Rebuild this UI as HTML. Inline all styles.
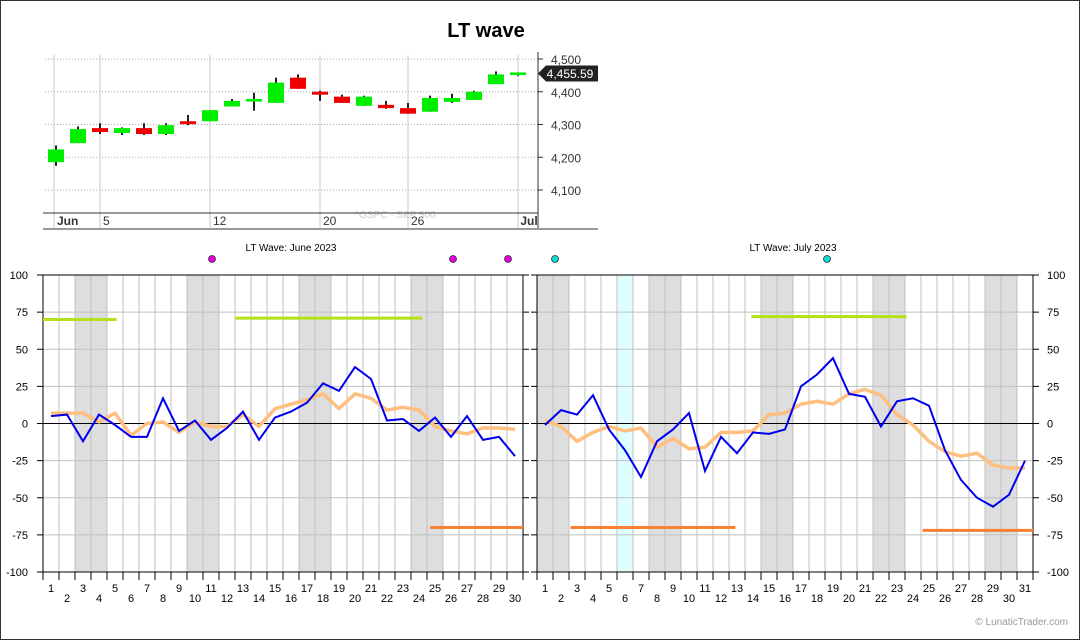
<!DOCTYPE html>
<html><head><meta charset="utf-8"><style>
body{margin:0;background:#fff}
svg{display:block;font-family:"Liberation Sans",Arial,sans-serif}
</style></head><body>
<svg id="c" width="1080" height="640" viewBox="0 0 1080 640" xmlns="http://www.w3.org/2000/svg">
<rect x="0.5" y="0.5" width="1079" height="639" fill="#fff" stroke="#333"/>
<text x="486" y="37" text-anchor="middle" font-size="20" font-weight="bold" fill="#000">LT wave</text>
<g id="topchart"></g>
<g id="panels"></g>
<text x="1068" y="625" text-anchor="end" font-size="10" fill="#999">© LunaticTrader.com</text>
</svg>
<script>
const NS="http://www.w3.org/2000/svg";
// ---- candlestick data ----
const candleOpen=[4185,4243,4289,4274,4289,4271,4310,4310,4355,4370,4366,4443,4400,4385,4357,4360,4350,4339,4369,4375,4423,4451];
const candleClose=[4224,4286,4277,4289,4271,4298,4301,4344,4372,4378,4428,4409,4391,4366,4385,4350,4333,4381,4381,4400,4453,4459];
const candleHigh=[4236,4294,4304,4291,4304,4304,4329,4344,4378,4397,4443,4453,4403,4391,4388,4372,4366,4388,4394,4403,4462,4459];
const candleLow=[4174,4243,4271,4268,4268,4268,4298,4310,4355,4342,4366,4409,4372,4366,4357,4348,4333,4339,4366,4375,4423,4449];
const priceTicks=[4500,4400,4300,4200,4100];
const dateLabels=["Jun","5","12","20","26","Jul"];
const dateIdx=[0,2,7,12,16,21];
const lastPrice="4,455.59";
// ---- LT wave data ----
const juneBlue=[5,6,-12,6,-1,-9,-9,17,-5,2,-11,-3,8,-11,4,8,14,27,22,38,30,2,3,-5,4,-9,5,-11,-9,-22];
const juneOrange=[7,7,7,1,7,-8,0,1,-6,1,-2,-2,6,-2,10,13,16,20,10,20,17,9,11,9,-2,-5,-7,-3,-3,-4];
const julyBlue=[-1,9,6,19,-4,-18,-36,-12,-4,7,-32,-9,-20,-6,-7,-4,25,33,44,20,18,-2,15,17,12,-18,-38,-50,-56,-48,-25];
const julyOrange=[2,-2,-12,-6,-2,-5,-3,-16,-10,-17,-16,-6,-6,-5,6,7,13,15,13,20,23,19,6,-1,-12,-19,-22,-20,-28,-30,-30];
const juneShade=[3,4,10,11,17,18,24,25];
const julyShade=[1,2,8,9,15,16,22,23,29,30];
const julyCyanShade=[6];
const juneGreen=[[0.5,5.1,70],[12.5,24.2,71]];
const juneOrangeBars=[[24.7,30.5,-70]];
const julyGreen=[[13.9,23.6,72]];
const julyOrangeBars=[[2.6,12.9,-70],[24.6,31.5,-72]];
const juneDotsX=[212,453,508];
const julyDotsX=[555,827];
const yTicks=[100,75,50,25,0,-25,-50,-75,-100];

function el(tag,attrs,parent,text){const e=document.createElementNS(NS,tag);for(const k in attrs)e.setAttribute(k,attrs[k]);if(text!==undefined)e.textContent=text;parent.appendChild(e);return e;}

// ---- top chart ----
const topG=document.getElementById('topchart');
const py=v=>59+(4500-v)*0.3275;
const cx=i=>56+i*22;
priceTicks.forEach(t=>{
  const l=el('line',{x1:45,x2:538,y1:py(t),y2:py(t),stroke:'#aaa','stroke-dasharray':'1,2'},topG);
  
  
  const tx=el('text',{x:566,y:py(t)+5,'text-anchor':'middle','font-size':12,fill:'#333'},topG,t.toLocaleString('en-US'));
  
  
  el('line',{x1:538,x2:543,y1:py(t),y2:py(t),stroke:'#333'},topG);
});
dateIdx.forEach((d,k)=>{
  const x=cx(d)-2*(k==0);
  const l=el('line',{x1:x,x2:x,y1:55,y2:228,stroke:'#c8c8c8'},topG);
  
  
  const tx=el('text',{x:x+3,y:225,'font-size':12,'font-weight':k==0||k==5?'bold':'normal',fill:'#333'},topG,dateLabels[k]);
  if(k==5){tx.setAttribute('x',x+11);tx.setAttribute('text-anchor','middle');}
  
  
});
const wm=el('text',{x:395,y:218,'text-anchor':'middle','font-size':10,fill:'#ccc'},topG,'^GSPC - S&P 500');


el('line',{x1:43,x2:538,y1:213,y2:213,stroke:'#333'},topG);
el('line',{x1:538,x2:538,y1:52,y2:228,stroke:'#333'},topG);
el('line',{x1:43,x2:598,y1:229,y2:229,stroke:'#333'},topG);
candleOpen.forEach((o,i)=>{
  const c=candleClose[i],up=c>=o,x=cx(i);
  const g=el('g',{},topG);
  
  
  el('line',{x1:x,x2:x,y1:py(candleHigh[i]),y2:py(candleLow[i]),stroke:'#222','stroke-width':2},g);
  const t=py(Math.max(o,c)),b=py(Math.min(o,c));
  el('rect',{x:x-8,y:t,width:16,height:Math.max(2,b-t),fill:up?'#00ee00':'#ee0000'},g);
});
const lp=py(4455.59);
const pl=el('path',{d:`M538 ${lp} L546 ${lp-8} H598 V${lp+8} H546 Z`,fill:'#222'},topG);


const plt=el('text',{x:570,y:lp+4.5,'text-anchor':'middle','font-size':12,fill:'#fff'},topG,lastPrice);



// ---- LT wave panels ----
const panelsG=document.getElementById('panels');
const vy=v=>423.5-v*1.485;
function panel(name,x0,ndays,blue,orange,shade,cyan,greens,oranges,dots,dotColor,title,axisRight){
  const g=el('g',{},panelsG);
  
  
  const x1=x0+ndays*16;
  const dx=d=>x0+8+(d-1)*16;
  shade.forEach(d=>{const r=el('rect',{x:x0+(d-1)*16,y:275,width:16,height:297,fill:'#dedede'},g);
    
    });
  cyan.forEach(d=>{const r=el('rect',{x:x0+(d-1)*16,y:275,width:16,height:297,fill:'#dfffff'},g);
    
    });
  for(let d=0;d<=ndays;d++){const x=x0+d*16;el('line',{x1:x,x2:x,y1:275,y2:572,stroke:'#c0c0c0'},g);el('line',{x1:x,x2:x,y1:572,y2:580,stroke:'#000'},g);}
  yTicks.forEach(t=>{
    el('line',{x1:x0,x2:x1,y1:vy(t),y2:vy(t),stroke:t==0?'#000':'#c0c0c0'},g);
    el('line',{x1:x0-6,x2:x0,y1:vy(t),y2:vy(t),stroke:'#000'},g);
    el('line',{x1:x1,x2:x1+6,y1:vy(t),y2:vy(t),stroke:'#000'},g);
    const tx=axisRight?el('text',{x:1047,y:vy(t)+4,'font-size':11,fill:'#000'},g,t):el('text',{x:28,y:vy(t)+4,'text-anchor':'end','font-size':11,fill:'#000'},g,t);
    
    
  });
  el('rect',{x:x0,y:275,width:x1-x0,height:297,fill:'none',stroke:'#000'},g);
  for(let d=1;d<=ndays;d++){const tx=el('text',{x:dx(d),y:d%2?592:602,'text-anchor':'middle','font-size':11,fill:'#000'},g,d);
    
    }
  greens.forEach(s=>{const l=el('line',{x1:dx(s[0]),x2:Math.min(x1,dx(s[1])),y1:vy(s[2]),y2:vy(s[2]),stroke:'#b5e11a','stroke-width':3},g);
    
    });
  oranges.forEach(s=>{const l=el('line',{x1:dx(s[0]),x2:Math.min(x1,dx(s[1])),y1:vy(s[2]),y2:vy(s[2]),stroke:'#fb8030','stroke-width':3},g);
    
    });
  const op=el('polyline',{points:orange.map((v,i)=>dx(i+1)+','+vy(v)).join(' '),fill:'none',stroke:'#ffbf80','stroke-width':3.5,'stroke-linejoin':'round'},g);
  
  
  const bp=el('polyline',{points:blue.map((v,i)=>dx(i+1)+','+vy(v)).join(' '),fill:'none',stroke:'#0000ee','stroke-width':2},g);
  
  
  dots.forEach(x=>{const c=el('circle',{cx:x,cy:259,r:3.5,fill:dotColor,stroke:'#333','stroke-width':0.8},g);
    
    });
  const tt=el('text',{x:(x0+x1)/2+8,y:251,'text-anchor':'middle','font-size':10,fill:'#000'},g,title);
  
  
}
panel('june-panel',43,30,juneBlue,juneOrange,juneShade,[],juneGreen,juneOrangeBars,juneDotsX,'#e000e0','LT Wave: June 2023',false);
panel('july-panel',537,31,julyBlue,julyOrange,julyShade,julyCyanShade,julyGreen,julyOrangeBars,julyDotsX,'#00dddd','LT Wave: July 2023',true);
</script>
</body></html>
